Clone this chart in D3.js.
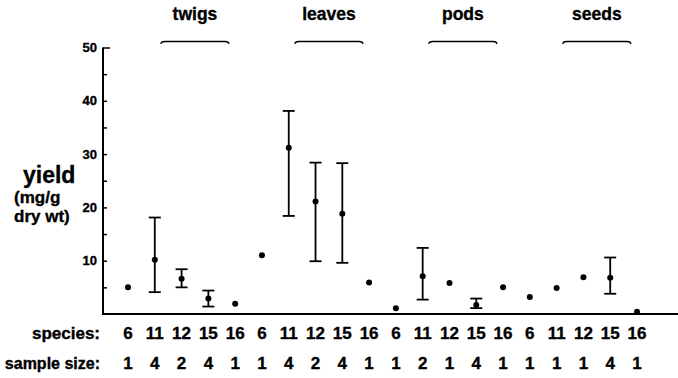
<!DOCTYPE html>
<html>
<head>
<meta charset="utf-8">
<script src="https://cdn.jsdelivr.net/npm/d3@7"></script>
<style>
  body { margin: 0; background: #fff; }
  svg { display: block; font-family: "Liberation Sans", Arial, sans-serif; font-weight: bold; }
  svg text { stroke: #000; stroke-width: 0.35px; }
</style>
</head>
<body>
<div id="chart"></div>
<script>
var width = 678,
    height = 378;

// plant parts (groups) and species within each group
var parts = ["twigs", "leaves", "pods", "seeds"];
var species = [6, 11, 12, 15, 16];

// mean yield (mg/g dry wt) per part, in species order
var meanYield = [
    [5.0, 10.2, 6.6, 2.9, 1.9],
    [11.0, 31.2, 21.1, 18.8, 5.9],
    [1.1, 7.1, 5.8, 1.7, 5.0],
    [3.2, 4.9, 6.9, 6.8, 0.4]
];
// error bar ends (null = no bar)
var lowYield = [
    [null, 4.1, 5.0, 1.4, null],
    [null, 18.4, 9.9, 9.6, null],
    [null, 2.7, null, 1.1, null],
    [null, null, null, 3.8, null]
];
var highYield = [
    [null, 18.1, 8.4, 4.4, null],
    [null, 38.1, 28.4, 28.3, null],
    [null, 12.4, null, 2.9, null],
    [null, null, null, 10.6, null]
];
var sampleSize = [
    [1, 4, 2, 4, 1],
    [1, 4, 2, 4, 1],
    [1, 2, 1, 4, 1],
    [1, 1, 1, 4, 1]
];

// flatten into rows
var rows = [];
parts.forEach(function (p, gi) {
    species.forEach(function (s, si) {
        rows.push({
            key: p + "-" + s,
            part: p,
            species: s,
            mean: meanYield[gi][si],
            lo: lowYield[gi][si],
            hi: highYield[gi][si],
            n: sampleSize[gi][si]
        });
    });
});

var svg = d3.select("#chart").append("svg")
    .attr("width", width)
    .attr("height", height);

var x = d3.scalePoint()
    .domain(rows.map(function (d) { return d.key; }))
    .range([128, 637]);

var y = d3.scaleLinear().domain([0, 50]).range([314, 47.5]);

var axisX = 103;

// y axis: minor ticks every 5, labels every 10
var yAxis = d3.axisLeft(y)
    .tickValues(d3.range(5, 51, 5))
    .tickSize(-4)
    .tickFormat(function (d) { return d % 10 === 0 ? d : ""; })
    .tickPadding(6);

var gy = svg.append("g")
    .attr("transform", "translate(" + axisX + ",0)")
    .call(yAxis);
gy.select(".domain").remove();
gy.selectAll(".tick line").attr("stroke", "#000").attr("stroke-width", 1.5);
gy.selectAll(".tick line").filter(function (d) { return d === 50; }).attr("x2", 7);
gy.selectAll(".tick text")
    .style("font-size", "13px")
    .style("font-weight", "bold")
    .style("font-family", "'Liberation Sans', Arial, sans-serif")
    .attr("fill", "#000");

svg.append("line")
    .attr("x1", axisX).attr("x2", axisX)
    .attr("y1", y(50)).attr("y2", y(0) + 1)
    .attr("stroke", "#000").attr("stroke-width", 2);

svg.append("line")
    .attr("x1", axisX - 1).attr("x2", width)
    .attr("y1", y(0)).attr("y2", y(0))
    .attr("stroke", "#000").attr("stroke-width", 2);

// y axis title
svg.append("text").attr("x", 23).attr("y", 183)
    .style("font-size", "23px").text("yield");
svg.append("text").attr("x", 14).attr("y", 203)
    .style("font-size", "17px").text("(mg/g");
svg.append("text").attr("x", 14).attr("y", 222)
    .style("font-size", "17px").text("dry wt)");

// group labels and braces
parts.forEach(function (p) {
    var cx = (x(p + "-12") + x(p + "-15")) / 2;
    svg.append("text")
        .attr("x", cx).attr("y", 20)
        .attr("text-anchor", "middle")
        .style("font-size", "17.5px")
        .text(p);
    var x0 = cx - 34, x1 = cx + 34, by = 41.5;
    svg.append("path")
        .attr("d", "M" + x0 + "," + (by + 2.5) + "Q" + x0 + "," + by + " " + (x0 + 4) + "," + by +
            "L" + (x1 - 4) + "," + by + "Q" + x1 + "," + by + " " + x1 + "," + (by + 2.5))
        .attr("fill", "none")
        .attr("stroke", "#000")
        .attr("stroke-width", 1.3);
});

// error bars
var bars = svg.append("g").selectAll("g")
    .data(rows.filter(function (d) { return d.hi !== null; }))
    .join("g")
    .attr("stroke", "#000")
    .attr("stroke-width", 1.8);
bars.append("line")
    .attr("x1", function (d) { return x(d.key); })
    .attr("x2", function (d) { return x(d.key); })
    .attr("y1", function (d) { return y(d.lo); })
    .attr("y2", function (d) { return y(d.hi); });
["lo", "hi"].forEach(function (k) {
    bars.append("line")
        .attr("x1", function (d) { return x(d.key) - 6; })
        .attr("x2", function (d) { return x(d.key) + 6; })
        .attr("y1", function (d) { return y(d[k]); })
        .attr("y2", function (d) { return y(d[k]); });
});

// mean points
svg.append("g").selectAll("circle")
    .data(rows)
    .join("circle")
    .attr("cx", function (d) { return x(d.key); })
    .attr("cy", function (d) { return y(d.mean); })
    .attr("r", 3)
    .attr("fill", "#000");

// bottom rows
svg.append("text").attr("x", 100).attr("y", 339)
    .attr("text-anchor", "end")
    .style("font-size", "17px").text("species:");
svg.append("text").attr("x", 100).attr("y", 369)
    .attr("text-anchor", "end")
    .style("font-size", "16px").text("sample size:");

svg.append("g").selectAll("text")
    .data(rows)
    .join("text")
    .attr("x", function (d) { return x(d.key); })
    .attr("y", 339)
    .attr("text-anchor", "middle")
    .style("font-size", "17px")
    .text(function (d) { return d.species; });

svg.append("g").selectAll("text")
    .data(rows)
    .join("text")
    .attr("x", function (d) { return x(d.key); })
    .attr("y", 369)
    .attr("text-anchor", "middle")
    .style("font-size", "17px")
    .text(function (d) { return d.n; });
</script>
</body>
</html>
